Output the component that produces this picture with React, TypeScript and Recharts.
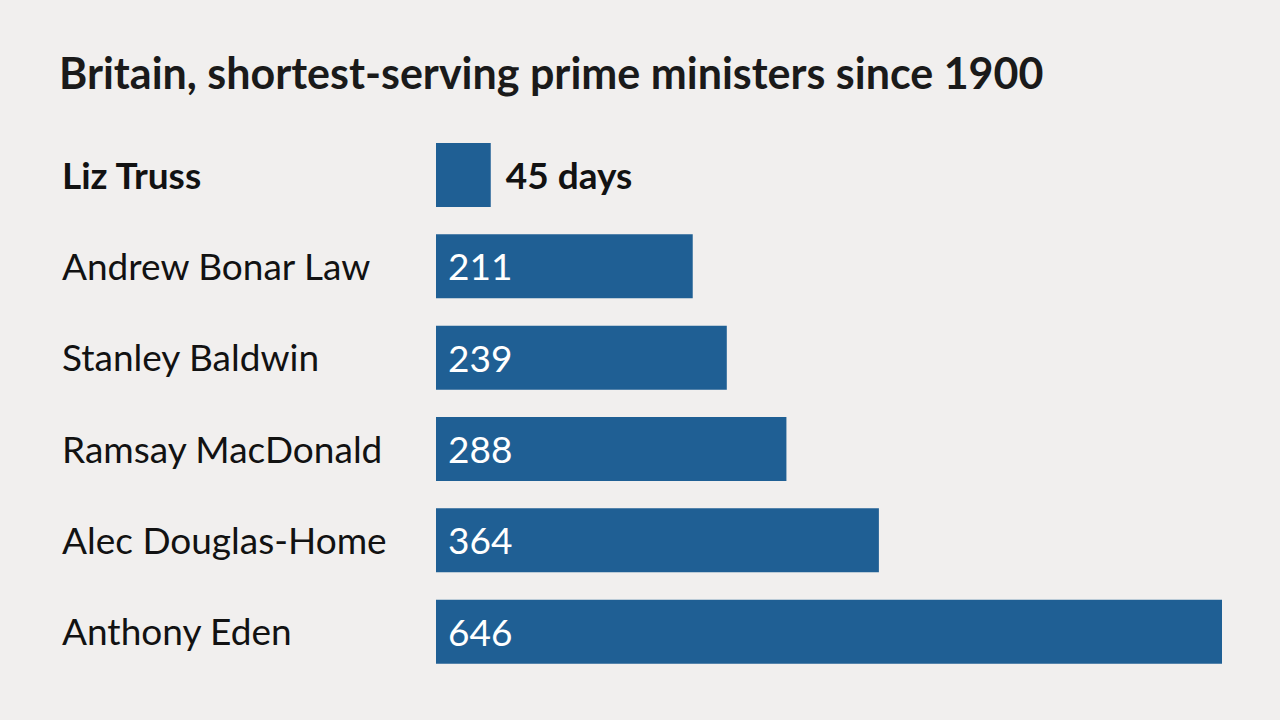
import { BarChart, Bar, XAxis, YAxis, LabelList } from "recharts";

const names = [
  "Liz Truss",
  "Andrew Bonar Law",
  "Stanley Baldwin",
  "Ramsay MacDonald",
  "Alec Douglas-Home",
  "Anthony Eden",
];
const days = [45, 211, 239, 288, 364, 646];

const data = names.map((name, i) => ({ name, days: days[i] }));

const FONT = "Lato, 'Noto Sans', sans-serif";
const BG = "#f1efee";
const BLUE = "#1f5f94";

function NameTick(props: any) {
  const { y, payload } = props;
  const first = payload.value === names[0];
  return (
    <text
      x={62}
      y={y}
      dy={14}
      textAnchor="start"
      fontFamily={FONT}
      fontSize={37}
      fontWeight={first ? 700 : 400}
      fill="#121212"
    >
      {payload.value}
    </text>
  );
}

function ValueLabel(props: any) {
  const { x, y, width, height, value, index } = props;
  if (index === 0) {
    return (
      <text
        x={x + width + 15}
        y={y + height / 2}
        dy={14}
        fontFamily={FONT}
        fontSize={37}
        fontWeight={700}
        fill="#121212"
      >
        {value} days
      </text>
    );
  }
  return (
    <text
      x={x + 12}
      y={y + height / 2}
      dy={14}
      fontFamily={FONT}
      fontSize={37}
      fill="#ffffff"
    >
      {value}
    </text>
  );
}

export default function App() {
  return (
    <div
      style={{
        position: "absolute",
        left: 0,
        top: 0,
        width: 1280,
        height: 720,
        background: BG,
        fontFamily: FONT,
      }}
    >
      <div
        style={{
          position: "absolute",
          left: 59,
          top: 47,
          fontSize: 43,
          fontWeight: 700,
          color: "#1a1a1a",
          whiteSpace: "nowrap",
        }}
      >
        Britain, shortest-serving prime ministers since 1900
      </div>
      <BarChart
        width={1280}
        height={720}
        data={data}
        layout="vertical"
        margin={{ top: 129, right: 58, bottom: 43, left: 0 }}
        barCategoryGap={0}
      >
        <XAxis type="number" dataKey="days" domain={[0, 646]} hide />
        <YAxis
          type="category"
          dataKey="name"
          width={436}
          axisLine={false}
          tickLine={false}
          tick={<NameTick />}
          interval={0}
        />
        <Bar dataKey="days" fill={BLUE} barSize={64} isAnimationActive={false}>
          <LabelList dataKey="days" content={<ValueLabel />} />
        </Bar>
      </BarChart>
    </div>
  );
}
